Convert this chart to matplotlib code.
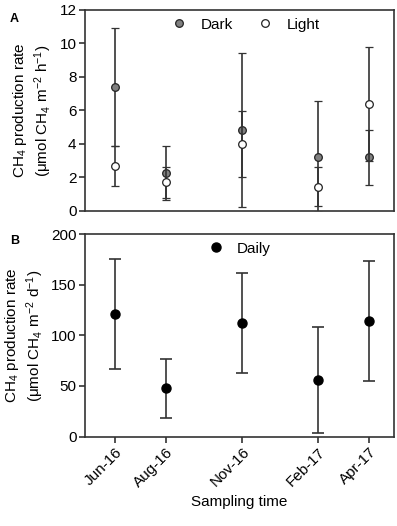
import numpy as np
import matplotlib
matplotlib.use('Agg')
import matplotlib.pyplot as plt
from matplotlib.lines import Line2D

plt.rcParams['font.family'] = ['Liberation Sans', 'DejaVu Sans']
plt.rcParams['mathtext.default'] = 'regular'

# sampling times (months after Jun-16)
months = [0, 2, 5, 8, 10]
labels = ['Jun-16', 'Aug-16', 'Nov-16', 'Feb-17', 'Apr-17']

# panel A: hourly rates
dark = [7.4, 2.25, 4.85, 3.25, 3.2]
dark_err = [3.5, 1.6, 4.6, 3.3, 1.65]
light = [2.7, 1.7, 4.0, 1.45, 6.4]
light_err = [1.2, 0.9, 1.95, 1.15, 3.4]

# panel B: daily rates
daily = [121, 47.5, 112, 56, 114]
daily_err = [54.5, 28.8, 49.7, 52.6, 59.2]

fig = plt.figure(figsize=(3.97, 5.26), dpi=100)
axA = fig.add_axes([0.214, 0.599, 0.779, 0.382])
axB = fig.add_axes([0.214, 0.170, 0.779, 0.385])

ecol = '#333333'
fs = 11
axA.errorbar(months, dark, yerr=dark_err, fmt='o', color=ecol, mfc='#808080', mec='#222222',
             ms=5.5, mew=0.9, capsize=3, elinewidth=1.2, capthick=1.2, zorder=3)
axA.errorbar(months, light, yerr=light_err, fmt='o', color=ecol, mfc='white', mec='#222222',
             ms=5.5, mew=0.9, capsize=3, elinewidth=1.2, capthick=1.2, zorder=4)
axA.set_ylim(0, 12)
axA.set_yticks(range(0, 13, 2))
axA.set_ylabel('CH$_4$ production rate\n(μmol CH$_4$ m$^{-2}$ h$^{-1}$)', fontsize=fs, labelpad=4)
axA.set_xticks([])
hA = [Line2D([], [], ls='none', marker='o', mfc='#808080', mec='#222222', ms=5.5, mew=0.9),
      Line2D([], [], ls='none', marker='o', mfc='white', mec='#222222', ms=5.5, mew=0.9)]
axA.legend(hA, ['Dark', 'Light'], loc='upper center', ncol=2, frameon=False, fontsize=fs,
           handlelength=1.0, handletextpad=0.9, columnspacing=1.6, borderaxespad=0.1,
           bbox_to_anchor=(0.52, 1.0))

axB.errorbar(months, daily, yerr=daily_err, fmt='o', color=ecol, mfc='black', mec='black',
             ms=6.5, capsize=4.5, elinewidth=1.2, capthick=1.2)
axB.set_ylim(0, 200)
axB.set_yticks(range(0, 201, 50))
axB.set_xticks(months)
axB.set_xticklabels(labels, rotation=45, ha='right', rotation_mode='anchor')
axB.set_ylabel('CH$_4$ production rate\n(μmol CH$_4$ m$^{-2}$ d$^{-1}$)', fontsize=fs, labelpad=4)
axB.set_xlabel('Sampling time', fontsize=fs, labelpad=4)
hB = [Line2D([], [], ls='none', marker='o', mfc='black', mec='black', ms=6.5)]
axB.legend(hB, ['Daily'], loc='upper center', frameon=False, fontsize=fs, borderaxespad=0.1,
           handlelength=1.0, handletextpad=0.9, bbox_to_anchor=(0.5, 1.0))

for ax in (axA, axB):
    ax.set_xlim(-1.2, 11.0)
    ax.tick_params(direction='out', length=4, width=1.2, labelsize=fs, color='#333333', pad=2)
    for s in ax.spines.values():
        s.set_linewidth(1.2)
        s.set_color('#333333')

fig.text(0.025, 0.975, 'A', fontsize=9, fontweight='bold', va='top')
fig.text(0.025, 0.553, 'B', fontsize=9, fontweight='bold', va='top')

fig.savefig('out.png', dpi=100)
